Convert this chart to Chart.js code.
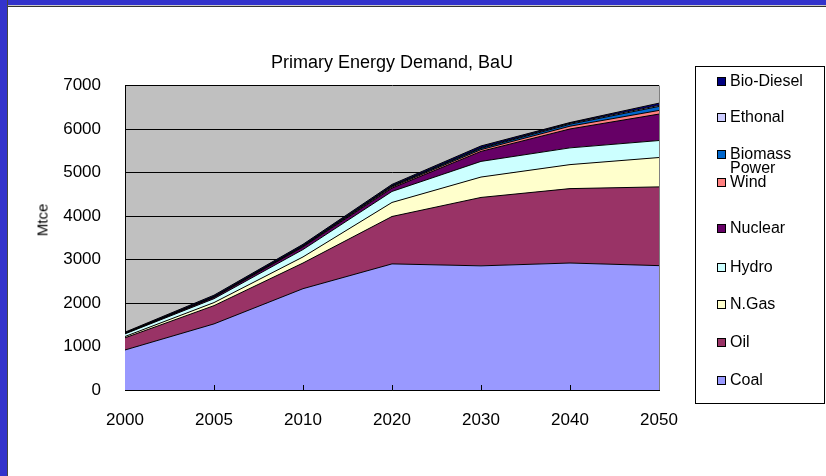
<!DOCTYPE html>
<html>
<head>
<meta charset="utf-8">
<script src="https://cdn.jsdelivr.net/npm/chart.js@4.4.1/dist/chart.umd.min.js"></script>
<style>
body { margin: 0; background: #fff; }
#wrap { position: relative; width: 826px; height: 476px; overflow: hidden; background: #fff;
  font-family: Arial, "Liberation Sans", sans-serif; }
#topbar { position: absolute; left: 0; top: 0; width: 826px; height: 5px; background: #3333cc; border-bottom: 1px solid #c8c8c8; }
#topline { position: absolute; left: 7px; top: 6px; width: 819px; height: 1px; background: #333; }
#leftbar { position: absolute; left: 0; top: 0; width: 7px; height: 476px; background: #3333cc; border-right: 1px solid #444; }
canvas { position: absolute; left: 0; top: 0; }
#ytitle { position: absolute; left: 42px; top: 220px; font-size: 15px; color: #000;
  transform: translate(-50%, -50%) rotate(-90deg); white-space: nowrap; }
#legend { position: absolute; left: 695px; top: 66px; width: 130px; height: 338px; border: 1px solid #000; box-sizing: border-box; }
.item { position: absolute; left: 21px; font-size: 16px; line-height: 14px; color: #000; }
.item i { position: absolute; left: 0; top: 3px; width: 7px; height: 7px; border: 1px solid #000; }
.item span { display: block; margin-left: 13px; }
</style>
</head>
<body>
<div id="wrap">
  <canvas id="myChart" width="826" height="476"></canvas>
  <div id="topbar"></div>
  <div id="topline"></div>
  <div id="leftbar"></div>
  <div id="ytitle">Mtce</div>
  <div id="legend"></div>
</div>
<script>
const years = ['2000', '2005', '2010', '2020', '2030', '2040', '2050'];
const coal      = [920, 1520, 2330, 2900, 2855, 2920, 2860];
const oil       = [280, 420, 590, 1090, 1573, 1711, 1811];
const nGas      = [30, 70, 140, 323, 469, 552, 675];
const hydro     = [60, 90, 170, 253, 360, 385, 391];
const nuclear   = [10, 30, 60, 77, 230, 435, 608];
const wind      = [2, 5, 10, 25, 40, 63, 84];
const biomass   = [5, 10, 15, 20, 30, 45, 92];
const ethonal   = [2, 5, 5, 10, 15, 20, 25];
const bioDiesel = [20, 30, 30, 30, 40, 20, 50];

const seriesNames = ['Coal', 'Oil', 'N.Gas', 'Hydro', 'Nuclear', 'Wind', 'Biomass Power', 'Ethonal', 'Bio-Diesel'];
const seriesData = [coal, oil, nGas, hydro, nuclear, wind, biomass, ethonal, bioDiesel];
const colors = ['#9999ff', '#993366', '#ffffcc', '#ccffff', '#660066', '#ff8080', '#0066cc', '#ccccff', '#000080'];

// legend, top item first (reverse of stack order)
const legendTops = [7, 43, 80, 108, 154, 193, 230, 268, 306];
const legend = document.getElementById('legend');
for (let k = 0; k < seriesNames.length; k++) {
  const i = seriesNames.length - 1 - k;
  const d = document.createElement('div');
  d.className = 'item';
  d.style.top = legendTops[k] + 'px';
  const box = document.createElement('i');
  box.style.background = colors[i];
  const txt = document.createElement('span');
  txt.innerHTML = seriesNames[i] === 'Biomass Power' ? 'Biomass<br>Power' : seriesNames[i];
  d.appendChild(box);
  d.appendChild(txt);
  legend.appendChild(d);
}

const plotBg = {
  id: 'plotBg',
  beforeDraw(chart) {
    const a = chart.chartArea, ctx = chart.ctx;
    ctx.save();
    ctx.fillStyle = '#c0c0c0';
    ctx.fillRect(a.left, a.top, a.right - a.left, a.bottom - a.top);
    ctx.restore();
  },
  afterDatasetsDraw(chart) {
    const a = chart.chartArea, ctx = chart.ctx, x = chart.scales.x;
    ctx.save();
    ctx.strokeStyle = '#808080';
    ctx.lineWidth = 1;
    ctx.beginPath();
    ctx.moveTo(Math.round(a.right) + 0.5, a.top);
    ctx.lineTo(Math.round(a.right) + 0.5, a.bottom);
    ctx.stroke();
    // small inward tick marks on the x axis
    ctx.strokeStyle = '#000';
    ctx.beginPath();
    x.ticks.forEach((t, i) => {
      if (i === 0 || i === x.ticks.length - 1) return;
      const px = Math.round(x.getPixelForTick(i)) + 0.5;
      ctx.moveTo(px, a.bottom);
      ctx.lineTo(px, a.bottom - 5);
    });
    ctx.stroke();
    ctx.restore();
  }
};

const ctx = document.getElementById('myChart').getContext('2d');
Chart.defaults.font.family = 'Arial, "Liberation Sans", sans-serif';
Chart.defaults.color = '#000000';
const myChart = new Chart(ctx, {
  type: 'line',
  data: {
    labels: years,
    datasets: seriesData.map((d, i) => ({
      label: seriesNames[i],
      data: d,
      backgroundColor: colors[i],
      borderColor: '#000000',
      borderWidth: 1,
      pointRadius: 0,
      tension: 0,
      fill: i === 0 ? 'origin' : '-1'
    }))
  },
  options: {
    responsive: false,
    animation: false,
    layout: { padding: { left: 30, right: 167, top: 0, bottom: 46 } },
    plugins: {
      legend: { display: false },
      tooltip: { enabled: false },
      title: {
        display: true,
        text: 'Primary Energy Demand, BaU',
        fullSize: false,
        font: { size: 18, weight: 'normal' },
        color: '#000',
        padding: { top: 52, bottom: 12 }
      }
    },
    scales: {
      x: {
        offset: false,
        grid: { display: false, drawTicks: false },
        border: { display: true, color: '#000', width: 1 },
        ticks: { font: { size: 17 }, padding: 20, maxRotation: 0 },
        afterFit(s) { s.height = 40; }
      },
      y: {
        stacked: true,
        min: 0,
        max: 7000,
        grid: { color: '#000', lineWidth: 1, drawTicks: false },
        border: { display: true, color: '#000', width: 1 },
        ticks: { stepSize: 1000, font: { size: 17 }, padding: 24, callback: v => String(v) },
        afterFit(s) { s.width = 95; }
      }
    }
  },
  plugins: [plotBg]
});
</script>
</body>
</html>
